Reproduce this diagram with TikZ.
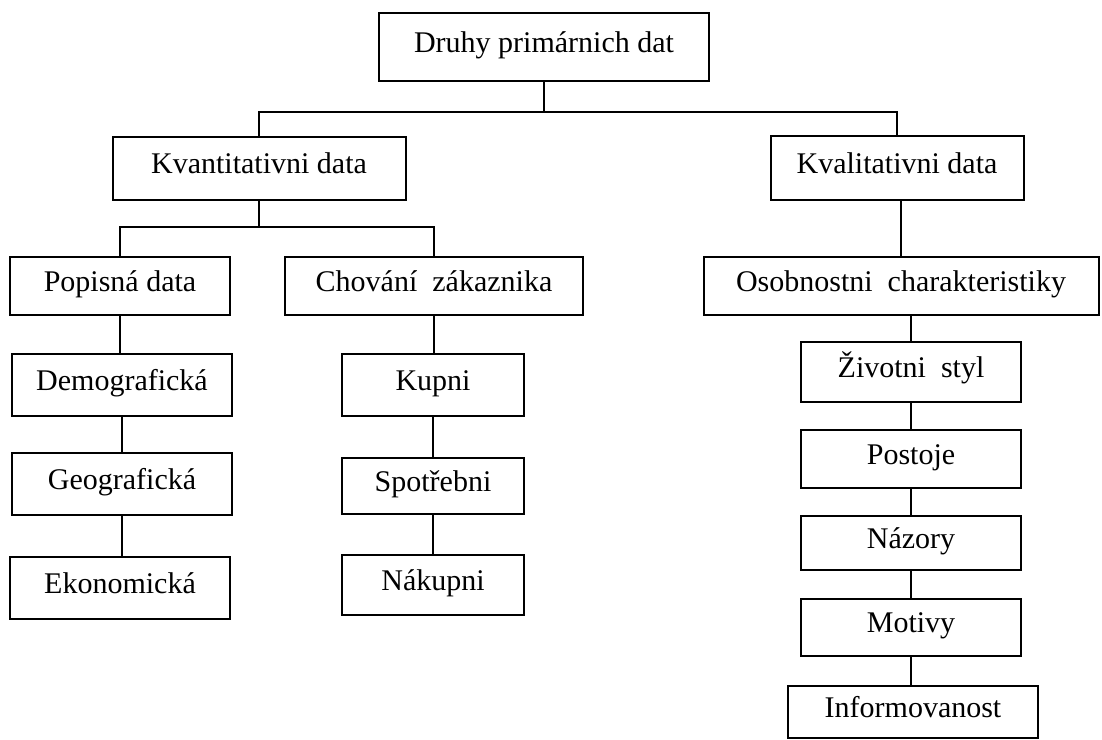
\documentclass[tikz,border=0pt]{standalone}
\usepackage{fontspec}
\setmainfont{Liberation Serif}
\usetikzlibrary{positioning}

\begin{document}
\begin{tikzpicture}[x=1pt,y=-1pt]
\tikzstyle{every node}+=[inner sep=0pt]
\tikzstyle{box}=[draw=black,line width=2pt,fill=white,font=\fontsize{30}{33}\selectfont,
  text height=19pt,text depth=9pt]
\tikzstyle{link}=[draw=black,line width=2pt]
\useasboundingbox (0,0) rectangle (1102,739);
% top level
\node [box,minimum width=330pt,minimum height=68pt] (druhy) at (544,47) {Druhy primárnich dat};
\node [box,minimum width=293pt,minimum height=63pt] (kvant) at (259,168) {Kvantitativni data};
\node [box,minimum width=253pt,minimum height=64pt] (kval) at (897,168) {Kvalitativni data};
% second level
\node [box,minimum width=220pt,minimum height=58pt] (popis) at (120,286) {Popisná data};
\node [box,minimum width=298pt,minimum height=58pt] (chov) at (434,286) {Chování~ zákaznika};
\node [box,minimum width=395pt,minimum height=58pt] (osob) at (901,286) {Osobnostni~ charakteristiky};
% left column
\node [box,minimum width=220pt,minimum height=62pt] (demo) at (122,385) {Demografická};
\node [box,minimum width=220pt,minimum height=62pt] (geo) at (122,484) {Geografická};
\node [box,minimum width=220pt,minimum height=62pt] (eko) at (120,588) {Ekonomická};
% middle column
\node [box,minimum width=182pt,minimum height=62pt] (kupni) at (433,385) {Kupni};
\node [box,minimum width=182pt,minimum height=56pt] (spotr) at (433,486) {Spotřebni};
\node [box,minimum width=182pt,minimum height=60pt] (nakup) at (433,585) {Nákupni};
% right column
\node [box,minimum width=220pt,minimum height=60pt] (zivot) at (911,372) {Životni~ styl};
\node [box,minimum width=220pt,minimum height=58pt] (post) at (911,459) {Postoje};
\node [box,minimum width=220pt,minimum height=54pt] (nazor) at (911,543) {Názory};
\node [box,minimum width=220pt,minimum height=57pt] (motiv) at (911,627) {Motivy};
\node [box,minimum width=250pt,minimum height=52pt] (inform) at (913,712) {Informovanost};
% connectors
\coordinate (j1) at (544,112);
\coordinate (j2) at (259,227);
\draw [link] (druhy.south) -- (j1);
\draw [link] (j1) -| (kvant.north);
\draw [link] (j1) -| (kval.north);
\draw [link] (kvant.south) -- (j2);
\draw [link] (j2) -| (popis.north);
\draw [link] (j2) -| (chov.north);
\draw [link] (osob.north |- kval.south) -- (osob.north);
\draw [link] (popis.south) -- (popis.south |- demo.north);
\draw [link] (demo.south) -- (demo.south |- geo.north);
\draw [link] (geo.south) -- (geo.south |- eko.north);
\draw [link] (chov.south) -- (chov.south |- kupni.north);
\draw [link] (kupni.south) -- (kupni.south |- spotr.north);
\draw [link] (spotr.south) -- (spotr.south |- nakup.north);
\draw [link] (zivot.north |- osob.south) -- (zivot.north);
\draw [link] (zivot.south) -- (zivot.south |- post.north);
\draw [link] (post.south) -- (post.south |- nazor.north);
\draw [link] (nazor.south) -- (nazor.south |- motiv.north);
\draw [link] (motiv.south) -- (motiv.south |- inform.north);
\end{tikzpicture}
\end{document}
